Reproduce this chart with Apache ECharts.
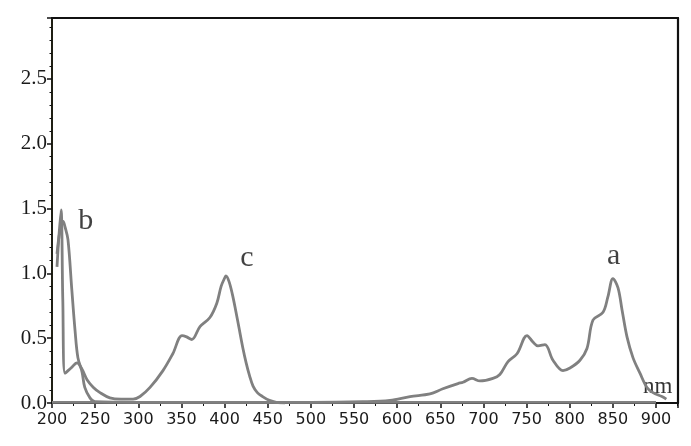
<!DOCTYPE html>
<html><head><meta charset="utf-8">
<script src="https://cdn.jsdelivr.net/npm/echarts@6/dist/echarts.min.js"></script>
<style>html,body{margin:0;padding:0;background:#fff}#c{width:691px;height:446px}</style>
</head><body><div id="c"></div>
<script>
// wavelength (nm), absorbance
var curveC_x = [205.8,210.4,212.5,215.1,222,229,234.8,240.6,248,255.6,267,280,293.9,302,313.6,328.6,340,350.7,356,362,371.5,383,391,396,400.5,401.6,405,409,413,417,421,425,429,433,438,444,452,460,470];
var curveC_y = [1.05,1.49,0.8,0.23,0.27,0.31,0.26,0.18,0.12,0.08,0.04,0.03,0.03,0.05,0.12,0.25,0.38,0.52,0.51,0.49,0.59,0.66,0.77,0.90,0.97,0.98,0.94,0.84,0.71,0.57,0.43,0.31,0.21,0.13,0.08,0.05,0.02,0.005,0.0];
var curveB_x = [205.8,209,213,215,218.5,223,226.7,230,234.8,238,244,249.8,300,400,500,600,700,800,900];
var curveB_y = [1.15,1.32,1.40,1.36,1.26,0.87,0.56,0.35,0.24,0.12,0.04,0.01,0.005,0.005,0.005,0.005,0.005,0.005,0.005];
var curveA_x = [200,300,400,500,560,591.7,614.9,638,653,670.5,676.3,686.7,696,711,719,728.5,738.9,750.5,757.4,763.2,771.3,780.6,792.2,800.3,811.9,820,827,838.6,844.3,850.1,855.9,860.6,866.4,873.3,881.4,889.5,896.5,906.9,912];
var curveA_y = [0.005,0.005,0.005,0.005,0.01,0.02,0.05,0.07,0.11,0.15,0.16,0.19,0.17,0.19,0.22,0.32,0.38,0.52,0.47,0.44,0.45,0.33,0.25,0.27,0.33,0.42,0.64,0.70,0.82,0.96,0.89,0.72,0.51,0.35,0.23,0.12,0.08,0.05,0.03];
var xTicks = [200,250,300,350,400,450,500,550,600,650,700,750,800,850,900];
var yTicks = [0.0,0.5,1.0,1.5,2.0,2.5];
var annText = ['a','b','c'];
var annX = [851,239,426];
var annY = [1.13,1.40,1.12];
var unitText = ['nm'];
var unitX = [902];
var unitY = [0.123];

function pairs(xs, ys){ return xs.map(function(x,i){return [x, ys[i]];}); }
var ann = annText.map(function(t,i){return {name:t, value:[annX[i], annY[i]]};});
var unit = unitText.map(function(t,i){return {name:t, value:[unitX[i], unitY[i]]};});

var chart = echarts.init(document.getElementById('c'));
var lineStyle = {color:'#808080', width:2.8};
var axisCol = '#111';
chart.setOption({
  animation:false,
  backgroundColor:'#fff',
  grid:{left:52, right:13, top:18, bottom:43},
  xAxis:[{
    type:'value', min:200, max:925.5, interval:50,
    axisLine:{show:true, onZero:false, lineStyle:{color:axisCol, width:2.2}},
    axisTick:{show:true, inside:false, length:5, lineStyle:{color:axisCol, width:1.5}},
    minorTick:{show:true, splitNumber:2, length:3, lineStyle:{color:axisCol, width:1}},
    splitLine:{show:false},
    axisLabel:{show:true, margin:9, color:'#1a1a1a', fontFamily:'DejaVu Sans', fontSize:16,
      showMaxLabel:false,
      formatter:function(v){ return xTicks.indexOf(v) >= 0 ? String(v) : ''; }}
  },{
    type:'value', position:'top', min:200, max:925.5,
    axisLine:{show:true, onZero:false, lineStyle:{color:axisCol, width:2.2}},
    axisTick:{show:false}, axisLabel:{show:false}, splitLine:{show:false}
  }],
  yAxis:[{
    type:'value', min:0, max:2.97, interval:0.5,
    axisLine:{show:true, onZero:false, lineStyle:{color:'#1f1f14', width:2}},
    axisTick:{show:true, inside:false, length:5, lineStyle:{color:axisCol, width:1.5}},
    minorTick:{show:true, splitNumber:5, length:2.5, lineStyle:{color:axisCol, width:1}},
    splitLine:{show:false},
    axisLabel:{show:true, margin:5, color:'#1a1a1a', fontFamily:'Liberation Serif', fontSize:21,
      showMaxLabel:false,
      formatter:function(v){
        for (var i=0;i<yTicks.length;i++){ if (Math.abs(yTicks[i]-v)<1e-6) return yTicks[i].toFixed(1); }
        return '';
      }}
  },{
    type:'value', position:'right', min:0, max:2.97,
    axisLine:{show:true, onZero:false, lineStyle:{color:axisCol, width:2.2}},
    axisTick:{show:false}, axisLabel:{show:false}, splitLine:{show:false}
  }],
  series:[
    {type:'line', data:pairs(curveA_x, curveA_y), showSymbol:false, smooth:0.35, lineStyle:lineStyle, z:3},
    {type:'line', data:pairs(curveB_x, curveB_y), showSymbol:false, smooth:0.35, lineStyle:lineStyle, z:3},
    {type:'line', data:pairs(curveC_x, curveC_y), showSymbol:false, smooth:0.35, lineStyle:lineStyle, z:3},
    {type:'scatter', data:ann, symbolSize:0, silent:true,
      label:{show:true, position:'inside', formatter:'{b}', color:'#111', fontFamily:'Liberation Serif', fontSize:30}},
    {type:'scatter', data:unit, symbolSize:0, silent:true,
      label:{show:true, position:'inside', formatter:'{b}', color:'#000', fontFamily:'Liberation Serif', fontSize:23}}
  ]
});
</script>
</body></html>
